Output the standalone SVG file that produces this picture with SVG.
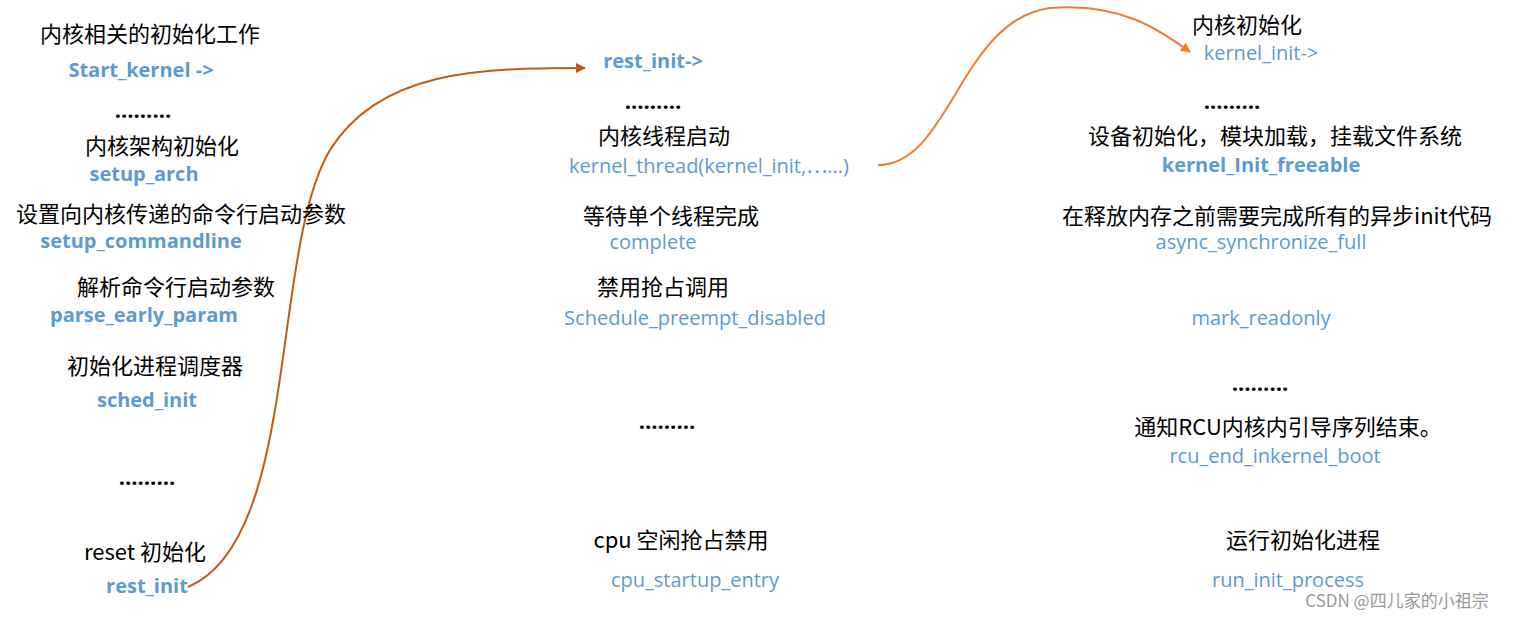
<svg xmlns="http://www.w3.org/2000/svg" width="1517" height="617" viewBox="0 0 1517 617">
<defs>
<style>
text{text-anchor:middle;font-family:"Open Sans","Noto Sans CJK SC",sans-serif}
.c{font-size:22px;fill:#000;font-family:"Noto Sans CJK SC",sans-serif}
.b{font-size:20px;fill:#5B9BD5}
.bb{font-size:20px;fill:#5B9BD5;font-weight:bold}
.d{font-size:22px;font-weight:bold;fill:#000}
.w{font-size:17px;fill:#999;font-family:"Noto Sans CJK SC",sans-serif}
</style>
<marker id="a1" markerWidth="10" markerHeight="10" refX="9" refY="5" orient="auto" markerUnits="userSpaceOnUse"><path d="M0,0 L10,5 L0,10 z" fill="#C55A11"/></marker>
<marker id="a2" markerWidth="10" markerHeight="10" refX="9" refY="5" orient="auto" markerUnits="userSpaceOnUse"><path d="M0,0 L10,5 L0,10 z" fill="#ED7D31"/></marker>
</defs>
<rect width="1517" height="617" fill="#fff"/>
<g id="connectors" fill="none" stroke-width="2">
<path d="M188,587 C300,540 270,250 330,150 C380,70 480,68 585,68" stroke="#C55A11" marker-end="url(#a1)"/>
<path d="M878,165 C950,165 960,20 1050,8 C1120,2 1160,30 1190,52" stroke="#ED7D31" marker-end="url(#a2)"/>
</g>
<g id="left">
<text class="c" x="150" y="42">内核相关的初始化工作</text>
<text class="bb" x="141" y="77">Start_kernel -&gt;</text>
<text class="d" x="143" y="118">………</text>
<text class="c" x="162" y="154">内核架构初始化</text>
<text class="bb" x="144" y="181">setup_arch</text>
<text class="c" x="181" y="222">设置向内核传递的命令行启动参数</text>
<text class="bb" x="141" y="248">setup_commandline</text>
<text class="c" x="176" y="295">解析命令行启动参数</text>
<text class="bb" x="144" y="322">parse_early_param</text>
<text class="c" x="155" y="374">初始化进程调度器</text>
<text class="bb" x="147" y="407">sched_init</text>
<text class="d" x="147" y="485">………</text>
<text class="c" x="145" y="560">reset 初始化</text>
<text class="bb" x="147" y="593">rest_init</text>
</g>
<g id="middle">
<text class="bb" x="653" y="68">rest_init-&gt;</text>
<text class="d" x="653" y="109">………</text>
<text class="c" x="664" y="144">内核线程启动</text>
<text class="b" x="709" y="173">kernel_thread(kernel_init,⋯...)</text>
<text class="c" x="671" y="224">等待单个线程完成</text>
<text class="b" x="653" y="249">complete</text>
<text class="c" x="663" y="295">禁用抢占调用</text>
<text class="b" x="695" y="325">Schedule_preempt_disabled</text>
<text class="d" x="667" y="429">………</text>
<text class="c" x="681" y="548">cpu 空闲抢占禁用</text>
<text class="b" x="695" y="587">cpu_startup_entry</text>
</g>
<g id="right">
<text class="c" x="1247" y="33">内核初始化</text>
<text class="b" x="1261" y="60">kernel_init-&gt;</text>
<text class="d" x="1232" y="109">………</text>
<text class="c" x="1275" y="144">设备初始化，模块加载，挂载文件系统</text>
<text class="bb" x="1261" y="172">kernel_Init_freeable</text>
<text class="c" x="1277" y="224">在释放内存之前需要完成所有的异步init代码</text>
<text class="b" x="1261" y="249">async_synchronize_full</text>
<text class="b" x="1261" y="325">mark_readonly</text>
<text class="d" x="1260" y="391">………</text>
<text class="c" x="1288" y="435">通知RCU内核内引导序列结束。</text>
<text class="b" x="1275" y="463">rcu_end_inkernel_boot</text>
<text class="c" x="1303" y="548">运行初始化进程</text>
<text class="b" x="1288" y="587">run_init_process</text>
</g>
<text class="w" x="1397" y="607">CSDN @四儿家的小祖宗</text>
</svg>
